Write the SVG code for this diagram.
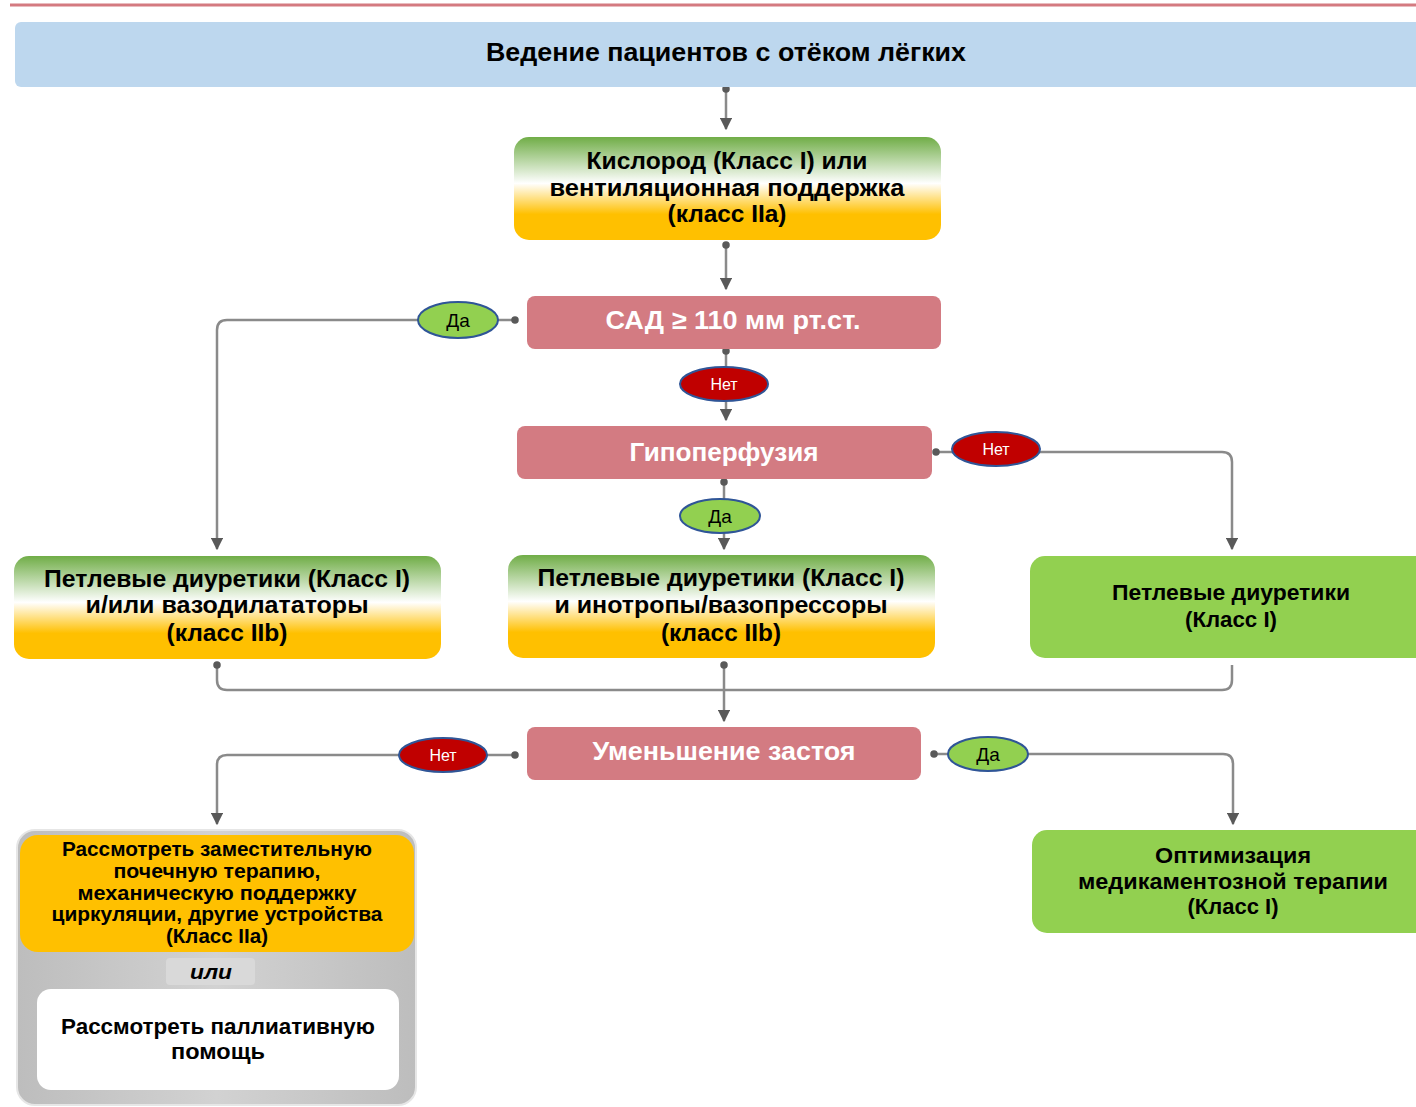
<svg xmlns="http://www.w3.org/2000/svg" width="1416" height="1107" viewBox="0 0 1416 1107">
<defs>
<linearGradient id="gy" x1="0" y1="0" x2="0" y2="1">
<stop offset="0" stop-color="#70ad47"/>
<stop offset="0.45" stop-color="#ffffff"/>
<stop offset="0.75" stop-color="#ffc000"/>
<stop offset="1" stop-color="#ffc000"/>
</linearGradient>
<linearGradient id="gray" x1="0" y1="0" x2="1" y2="0">
<stop offset="0" stop-color="#bdbdbd"/>
<stop offset="0.5" stop-color="#d2d2d2"/>
<stop offset="1" stop-color="#bdbdbd"/>
</linearGradient>
<marker id="arr" viewBox="0 0 10 10" refX="9" refY="5" markerWidth="5" markerHeight="5" orient="auto" markerUnits="strokeWidth">
<path d="M0,0 L10,5 L0,10 z" fill="#595959"/>
</marker>
<marker id="dot" viewBox="0 0 10 10" refX="5" refY="5" markerWidth="3" markerHeight="3" orient="auto" markerUnits="strokeWidth">
<circle cx="5" cy="5" r="5" fill="#595959"/>
</marker>
</defs>
<style>
.t{font-family:"Liberation Sans",Arial,sans-serif;font-weight:bold;text-anchor:middle;fill:#000}
.w{font-family:"Liberation Sans",Arial,sans-serif;font-weight:bold;text-anchor:middle;fill:#fff}
.lbl{font-family:"Liberation Sans",Arial,sans-serif;text-anchor:middle}
.pink{fill:#d37b82}
.green{fill:#92d050}
.grad{fill:url(#gy)}
.c{fill:none;stroke:#8a8a8a;stroke-width:2.5;marker-end:url(#arr);marker-start:url(#dot)}
.cn{fill:none;stroke:#8a8a8a;stroke-width:2.5}
.ey{fill:#92d050;stroke:#2f5597;stroke-width:2}
.en{fill:#c00000;stroke:#2f5597;stroke-width:2}
</style>
<line x1="10" y1="5" x2="1416" y2="5" stroke="#d47a80" stroke-width="3"/>

<g id="connectors">
<path class="c" d="M726,89 V129"/>
<path class="c" d="M726,245 V289"/>
<path class="c" d="M515,320 H227 Q217,320 217,330 V549"/>
<path class="c" d="M726,351 V420"/>
<path class="c" d="M936,452 H1222 Q1232,452 1232,462 V549"/>
<path class="c" d="M724,482 V549"/>
<path class="cn" style="marker-start:url(#dot)" d="M217,665 V680 Q217,690 227,690 H1222 Q1232,690 1232,680 V665"/>
<path class="c" d="M724,665 V721"/>
<path class="c" d="M515,755 H227 Q217,755 217,765 V824"/>
<path class="c" d="M934,754 H1223 Q1233,754 1233,764 V824"/>
</g>

<g id="title">
<rect x="15" y="22" width="1410" height="65" rx="6" fill="#bdd7ee"/>
<text class="t" x="726" y="61" font-size="26" textLength="480" lengthAdjust="spacingAndGlyphs">Ведение пациентов с отёком лёгких</text>
</g>

<g id="oxygen">
<rect class="grad" x="514" y="137" width="427" height="103" rx="15"/>
<text class="t" x="727" y="169" font-size="24" textLength="281" lengthAdjust="spacingAndGlyphs">Кислород (Класс I) или</text>
<text class="t" x="727" y="196" font-size="24" textLength="355" lengthAdjust="spacingAndGlyphs">вентиляционная поддержка</text>
<text class="t" x="727" y="222" font-size="24" textLength="119" lengthAdjust="spacingAndGlyphs">(класс IIa)</text>
</g>

<g id="sad">
<rect class="pink" x="527" y="296" width="414" height="53" rx="8"/>
<text class="w" x="733" y="329" font-size="26" textLength="255" lengthAdjust="spacingAndGlyphs">САД ≥ 110 мм рт.ст.</text>
</g>

<g id="label-sad-yes">
<ellipse class="ey" cx="458" cy="320" rx="40" ry="18"/>
<text class="lbl" x="458" y="327" font-size="19" fill="#000">Да</text>
</g>

<g id="label-sad-no">
<ellipse class="en" cx="724" cy="384" rx="44" ry="17"/>
<text class="lbl" x="724" y="390" font-size="16" fill="#fff">Нет</text>
</g>

<g id="hypo">
<rect class="pink" x="517" y="426" width="415" height="53" rx="8"/>
<text class="w" x="724" y="461" font-size="26" textLength="189" lengthAdjust="spacingAndGlyphs">Гипоперфузия</text>
</g>

<g id="label-hypo-no">
<ellipse class="en" cx="996" cy="449" rx="44" ry="17"/>
<text class="lbl" x="996" y="455" font-size="16" fill="#fff">Нет</text>
</g>

<g id="label-hypo-yes">
<ellipse class="ey" cx="720" cy="516" rx="40" ry="17"/>
<text class="lbl" x="720" y="523" font-size="19" fill="#000">Да</text>
</g>

<g id="diuretics-vaso">
<rect class="grad" x="14" y="556" width="427" height="103" rx="15"/>
<text class="t" x="227" y="587" font-size="24" textLength="366" lengthAdjust="spacingAndGlyphs">Петлевые диуретики (Класс I)</text>
<text class="t" x="227" y="613" font-size="24" textLength="283" lengthAdjust="spacingAndGlyphs">и/или вазодилататоры</text>
<text class="t" x="227" y="641" font-size="24" textLength="121" lengthAdjust="spacingAndGlyphs">(класс IIb)</text>
</g>

<g id="diuretics-ino">
<rect class="grad" x="508" y="555" width="427" height="103" rx="15"/>
<text class="t" x="721" y="586" font-size="24" textLength="367" lengthAdjust="spacingAndGlyphs">Петлевые диуретики (Класс I)</text>
<text class="t" x="721" y="613" font-size="24" textLength="333" lengthAdjust="spacingAndGlyphs">и инотропы/вазопрессоры</text>
<text class="t" x="721" y="641" font-size="24" textLength="120" lengthAdjust="spacingAndGlyphs">(класс IIb)</text>
</g>

<g id="diuretics">
<rect class="green" x="1030" y="556" width="400" height="102" rx="15"/>
<text class="t" x="1231" y="600" font-size="22" textLength="238" lengthAdjust="spacingAndGlyphs">Петлевые диуретики</text>
<text class="t" x="1231" y="627" font-size="22" textLength="92" lengthAdjust="spacingAndGlyphs">(Класс I)</text>
</g>

<g id="congestion">
<rect class="pink" x="527" y="727" width="394" height="53" rx="8"/>
<text class="w" x="724" y="760" font-size="26" textLength="263" lengthAdjust="spacingAndGlyphs">Уменьшение застоя</text>
</g>

<g id="label-cong-no">
<ellipse class="en" cx="443" cy="755" rx="44" ry="17"/>
<text class="lbl" x="443" y="761" font-size="16" fill="#fff">Нет</text>
</g>

<g id="label-cong-yes">
<ellipse class="ey" cx="988" cy="754" rx="40" ry="17"/>
<text class="lbl" x="988" y="761" font-size="19" fill="#000">Да</text>
</g>

<g id="advanced">
<rect x="17" y="830" width="399" height="275" rx="18" fill="url(#gray)" stroke="#e6e6e6" stroke-width="2"/>
<rect x="20" y="835" width="394" height="117" rx="18" fill="#ffc000"/>
<text class="t" x="217" y="856" font-size="20" textLength="310" lengthAdjust="spacingAndGlyphs">Рассмотреть заместительную</text>
<text class="t" x="217" y="878" font-size="20" textLength="207" lengthAdjust="spacingAndGlyphs">почечную терапию,</text>
<text class="t" x="217" y="900" font-size="20" textLength="279" lengthAdjust="spacingAndGlyphs">механическую поддержку</text>
<text class="t" x="217" y="921" font-size="20" textLength="331" lengthAdjust="spacingAndGlyphs">циркуляции, другие устройства</text>
<text class="t" x="217" y="943" font-size="20" textLength="102" lengthAdjust="spacingAndGlyphs">(Класс IIa)</text>
<rect x="166" y="958" width="89" height="27" rx="4" fill="#d9d9d9"/>
<text class="t" x="211" y="979" font-size="20" font-style="italic" textLength="42" lengthAdjust="spacingAndGlyphs">или</text>
<rect x="37" y="989" width="362" height="101" rx="14" fill="#ffffff"/>
<text class="t" x="218" y="1034" font-size="22" textLength="314" lengthAdjust="spacingAndGlyphs">Рассмотреть паллиативную</text>
<text class="t" x="218" y="1059" font-size="22" textLength="94" lengthAdjust="spacingAndGlyphs">помощь</text>
</g>

<g id="optimize">
<rect class="green" x="1032" y="830" width="400" height="103" rx="15"/>
<text class="t" x="1233" y="863" font-size="22" textLength="156" lengthAdjust="spacingAndGlyphs">Оптимизация</text>
<text class="t" x="1233" y="889" font-size="22" textLength="310" lengthAdjust="spacingAndGlyphs">медикаментозной терапии</text>
<text class="t" x="1233" y="914" font-size="22" textLength="91" lengthAdjust="spacingAndGlyphs">(Класс I)</text>
</g>
</svg>
